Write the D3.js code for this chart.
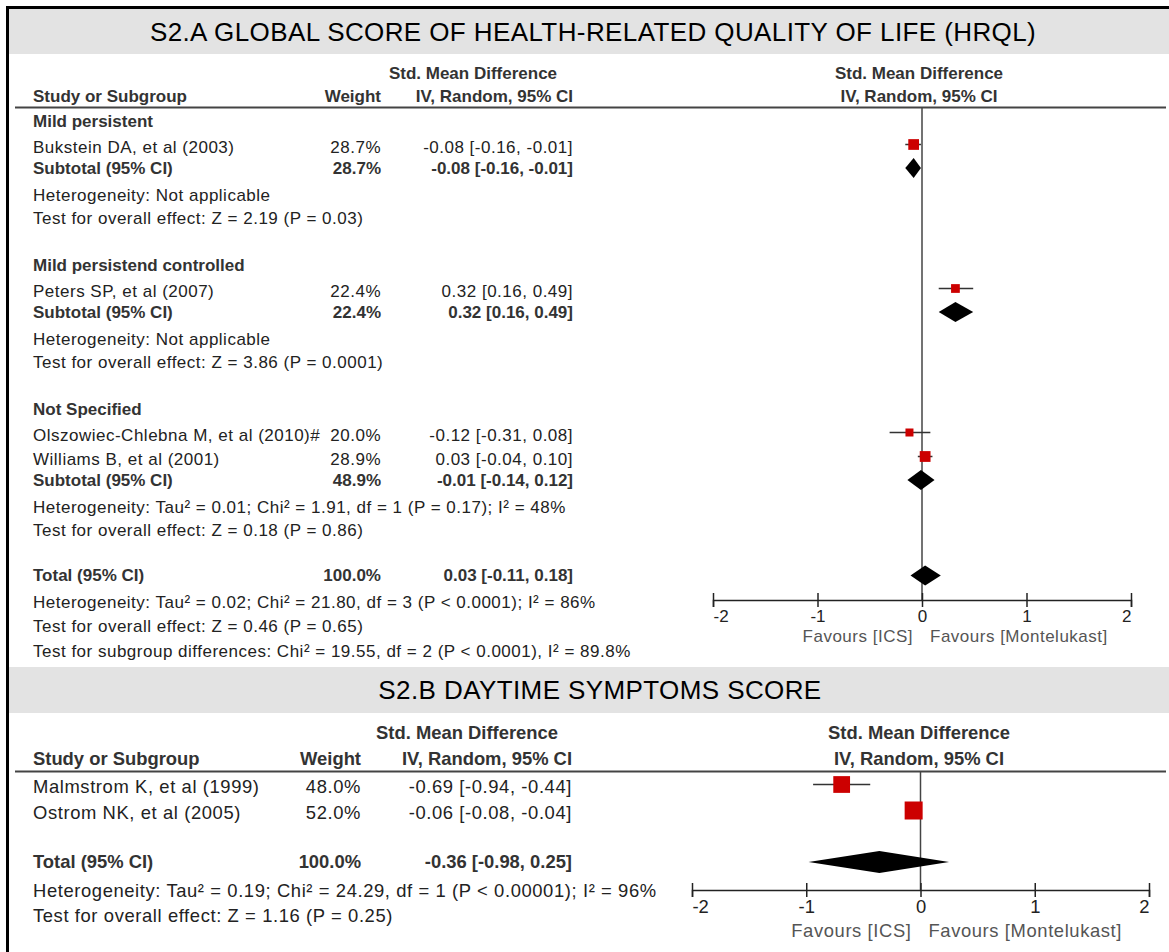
<!DOCTYPE html>
<html lang="en">
<head>
<meta charset="utf-8">
<title>S2 forest plots</title>
<script src="https://d3js.org/d3.v7.min.js"></script>
<style>
  body { margin: 0; background: #fff; }
  text { font-family: "Liberation Sans", Arial, sans-serif; fill: #222; }
  .b { font-weight: bold; fill: #333; letter-spacing: 0; }
  .fav { fill: #555; }
</style>
</head>
<body>
<script>
// ---- S2.A data ----
const subgroupsA = ["Mild persistent", "Mild persistend controlled", "Not Specified"];
const studiesA = ["Bukstein DA, et al (2003)", "Peters SP, et al (2007)",
  "Olszowiec-Chlebna M, et al (2010)#", "Williams B, et al (2001)"];
const studyGroupA = [0, 1, 2, 2];
const weightA = [28.7, 22.4, 20.0, 28.9];
const smdA = [-0.08, 0.32, -0.12, 0.03];
const lowA = [-0.16, 0.16, -0.31, -0.04];
const highA = [-0.01, 0.49, 0.08, 0.10];

const subWeightA = [28.7, 22.4, 48.9];
const subSmdA = [-0.08, 0.32, -0.01];
const subLowA = [-0.16, 0.16, -0.14];
const subHighA = [-0.01, 0.49, 0.12];
const subHetA = ["Heterogeneity: Not applicable", "Heterogeneity: Not applicable",
  "Heterogeneity: Tau\u00B2 = 0.01; Chi\u00B2 = 1.91, df = 1 (P = 0.17); I\u00B2 = 48%"];
const subTestA = ["Test for overall effect: Z = 2.19 (P = 0.03)",
  "Test for overall effect: Z = 3.86 (P = 0.0001)",
  "Test for overall effect: Z = 0.18 (P = 0.86)"];

const totalA = [100.0, 0.03, -0.11, 0.18]; // weight, smd, low, high
const totalNotesA = ["Heterogeneity: Tau\u00B2 = 0.02; Chi\u00B2 = 21.80, df = 3 (P < 0.0001); I\u00B2 = 86%",
  "Test for overall effect: Z = 0.46 (P = 0.65)",
  "Test for subgroup differences: Chi\u00B2 = 19.55, df = 2 (P < 0.0001), I\u00B2 = 89.8%"];

// ---- S2.B data ----
const studiesB = ["Malmstrom K, et al (1999)", "Ostrom NK, et al (2005)"];
const weightB = [48.0, 52.0];
const smdB = [-0.69, -0.06];
const lowB = [-0.94, -0.08];
const highB = [-0.44, -0.04];
const totalB = [100.0, -0.36, -0.98, 0.25];
const totalNotesB = ["Heterogeneity: Tau\u00B2 = 0.19; Chi\u00B2 = 24.29, df = 1 (P < 0.00001); I\u00B2 = 96%",
  "Test for overall effect: Z = 1.16 (P = 0.25)"];

const tickVals = [-2, -1, 0, 1, 2];
const favLeft = "Favours [ICS]", favRight = "Favours [Montelukast]";

const W = 1169, H = 952;
const svg = d3.select("body").append("svg").attr("width", W).attr("height", H);

const fmt = v => v.toFixed(2);
const ci = (m, l, h) => fmt(m) + " [" + fmt(l) + ", " + fmt(h) + "]";
const pct = w => w.toFixed(1) + "%";
const boxSize = d3.scaleLinear().domain([20, 52]).range([8, 18]);

// rows for panel A
const rowsA = [];
let y = 121;
subgroupsA.forEach((name, i) => {
  rowsA.push({ kind: "group", y, text: name });
  y += 26;
  studiesA.forEach((s, j) => {
    if (studyGroupA[j] !== i) return;
    rowsA.push({ kind: "study", y, name: s, w: weightA[j], m: smdA[j], l: lowA[j], h: highA[j] });
    y += 24;
  });
  y -= 3;
  rowsA.push({ kind: "sum", y, name: "Subtotal (95% CI)", w: subWeightA[i], m: subSmdA[i], l: subLowA[i], h: subHighA[i] });
  y += 27;
  rowsA.push({ kind: "note", y, text: subHetA[i] });
  y += 23.5;
  rowsA.push({ kind: "note", y, text: subTestA[i] });
  y += 46.5;
});
y -= 1.5;
rowsA.push({ kind: "sum", y, name: "Total (95% CI)", w: totalA[0], m: totalA[1], l: totalA[2], h: totalA[3] });
y += 27;
totalNotesA.forEach((t, k) => { rowsA.push({ kind: "note", y, text: t }); y += (k === 0 ? 24 : 25); });

// rows for panel B
const rowsB = [];
y = 787;
studiesB.forEach((s, j) => {
  rowsB.push({ kind: "study", y, name: s, w: weightB[j], m: smdB[j], l: lowB[j], h: highB[j] });
  y += 26;
});
y += 23;
rowsB.push({ kind: "sum", y, name: "Total (95% CI)", w: totalB[0], m: totalB[1], l: totalB[2], h: totalB[3] });
y += 29;
totalNotesB.forEach(t => { rowsB.push({ kind: "note", y, text: t }); y += 25; });

function panel(o) {
  const g = svg.append("g");
  const fs = o.fs;
  g.append("rect").attr("x", 9).attr("y", o.bandY).attr("width", W - 9).attr("height", o.bandH)
    .attr("fill", "#e3e3e3");
  g.append("text").attr("x", o.titleX).attr("y", o.bandY + o.bandH / 2).attr("dy", "0.36em")
    .attr("text-anchor", "middle").style("font-size", "26px").style("letter-spacing", "0.4px")
    .style("fill", "#000").text(o.title);

  // column headers
  const hd = (x, yy, t, anchor) => g.append("text").attr("class", "b").attr("x", x).attr("y", yy)
    .attr("text-anchor", anchor).style("font-size", fs + "px").text(t);
  hd(o.smdHeadX, o.head1, "Std. Mean Difference", "middle");
  hd(33, o.head2, "Study or Subgroup", "start");
  hd(o.wX, o.head2, "Weight", "end");
  hd(o.ciX, o.head2, "IV, Random, 95% CI", "end");
  hd(919, o.head1, "Std. Mean Difference", "middle");
  hd(919, o.head2, "IV, Random, 95% CI", "middle");
  g.append("line").attr("x1", 15).attr("x2", 1166).attr("y1", o.lineY).attr("y2", o.lineY)
    .attr("stroke", "#444").attr("stroke-width", 2);

  const x = d3.scaleLinear().domain([-2, 2]).range(o.range);

  // zero line
  g.append("line").attr("x1", x(0)).attr("x2", x(0)).attr("y1", o.lineY).attr("y2", o.axisY)
    .attr("stroke", "#444").attr("stroke-width", 1.5);

  const txt = (xx, yy, t, bold, anchor) => g.append("text").attr("class", bold ? "b" : null)
    .attr("x", xx).attr("y", yy).attr("dy", "0.35em").attr("text-anchor", anchor || "start")
    .style("font-size", fs + "px").style("letter-spacing", bold ? "0px" : o.ls + "px").text(t);

  o.rows.forEach(r => {
    if (r.kind === "group") txt(33, r.y, r.text, true);
    else if (r.kind === "note") txt(33, r.y, r.text, false);
    else {
      const bold = r.kind === "sum";
      txt(33, r.y, r.name, bold);
      txt(o.wX, r.y, pct(r.w), bold, "end");
      txt(o.ciX, r.y, ci(r.m, r.l, r.h), bold, "end");
      if (r.kind === "study") {
        const cy = r.y - 2.5, s = boxSize(r.w);
        g.append("line").attr("x1", x(r.l)).attr("x2", x(r.h)).attr("y1", cy).attr("y2", cy)
          .attr("stroke", "#333").attr("stroke-width", 1.5);
        g.append("rect").attr("x", x(r.m) - s / 2).attr("y", cy - s / 2).attr("width", s).attr("height", s)
          .attr("fill", "#cc0000");
      } else {
        const hh = o.dh / 2, cy = r.y;
        g.append("path").attr("fill", "#000")
          .attr("d", `M${x(r.l)},${cy} L${x(r.m)},${cy - hh} L${x(r.h)},${cy} L${x(r.m)},${cy + hh} Z`);
      }
    }
  });

  // axis
  const ax = g.append("g").attr("transform", `translate(0,${o.axisY})`)
    .call(d3.axisBottom(x).tickValues(tickVals).tickFormat(d => String(d)).tickSize(7).tickPadding(3));
  ax.select(".domain").attr("stroke", "#222").attr("stroke-width", 1.5);
  ax.selectAll(".tick line").attr("y1", -7).attr("stroke", "#222").attr("stroke-width", 1.5);
  ax.selectAll(".tick text").style("font-size", fs + "px")
    .style("font-family", "'Liberation Sans', Arial, sans-serif").attr("fill", "#222")
    .attr("text-anchor", (d, i) => i === 0 ? "start" : (i === tickVals.length - 1 ? "end" : "middle"));
  g.append("text").attr("class", "fav").attr("x", x(0) - 9).attr("y", o.axisY + o.favDy)
    .attr("text-anchor", "end").style("font-size", fs + "px").style("letter-spacing", o.ls + "px").text(favLeft);
  g.append("text").attr("class", "fav").attr("x", x(0) + 8).attr("y", o.axisY + o.favDy)
    .style("font-size", fs + "px").style("letter-spacing", o.ls + "px").text(favRight);
}

panel({
  title: "S2.A GLOBAL SCORE OF HEALTH-RELATED QUALITY OF LIFE (HRQL)", titleX: 593,
  bandY: 9, bandH: 45, head1: 79, head2: 102, lineY: 107.5, fs: 17, ls: 0.5,
  smdHeadX: 473, wX: 381, ciX: 573, range: [713, 1131], axisY: 600, dh: 20, favDy: 42,
  rows: rowsA
});
panel({
  title: "S2.B DAYTIME SYMPTOMS SCORE", titleX: 600,
  bandY: 667, bandH: 46, head1: 739, head2: 765, lineY: 771.5, fs: 18.4, ls: 0.6,
  smdHeadX: 467, wX: 361, ciX: 572, range: [692, 1149], axisY: 890, dh: 22, favDy: 47,
  rows: rowsB
});

// outer frame (top and left edges)
svg.append("path").attr("d", `M7.5,${H} V7.5 H${W}`).attr("fill", "none")
  .attr("stroke", "#000").attr("stroke-width", 3);
</script>
</body>
</html>
